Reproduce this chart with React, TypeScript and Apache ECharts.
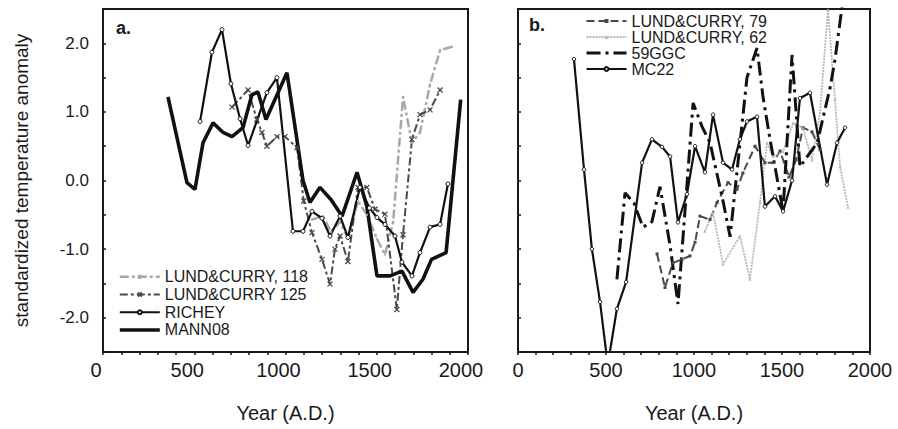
import React, { useEffect, useRef } from "react";
import * as echarts from "echarts";

type Pt = [number, number];

// Panel a: reconstructions
const lund118: Pt[] = [
  [1145, -0.57], [1205, -0.52], [1250, -0.75], [1299, -0.6], [1342, -0.85],
  [1397, -0.3], [1446, -0.5], [1501, -0.85], [1545, -1.08], [1590, -0.6],
  [1644, 1.22], [1693, 0.55], [1737, 0.7], [1792, 1.4], [1847, 1.9], [1912, 1.95],
];
const lund125: Pt[] = [
  [707, 1.07], [795, 1.32], [843, 0.89], [871, 0.7], [898, 0.5], [953, 0.64],
  [997, 0.64], [1063, 0.48], [1100, -0.3], [1145, -0.76], [1200, -1.15],
  [1244, -1.51], [1271, -1.0], [1299, -0.81], [1342, -1.18], [1397, -0.1],
  [1446, -0.1], [1490, -0.42], [1545, -0.49], [1610, -1.88], [1644, -0.79],
  [1693, 0.6], [1737, 0.96], [1792, 1.03], [1847, 1.32],
];
const richey: Pt[] = [
  [532, 0.86], [597, 1.87], [652, 2.2], [701, 1.41], [751, 0.9], [795, 0.51],
  [898, 1.28], [953, 1.5], [1041, -0.74], [1096, -0.74], [1145, -0.45],
  [1200, -0.55], [1244, -0.81], [1299, -0.52], [1342, -0.83], [1408, -0.1],
  [1460, -0.4], [1501, -0.54], [1545, -0.64], [1600, -0.81], [1638, -1.19],
  [1693, -1.39], [1737, -1.05], [1792, -0.68], [1847, -0.64], [1890, -0.05],
];
const mann08: Pt[] = [
  [356, 1.22], [460, -0.03], [504, -0.13], [548, 0.55], [603, 0.84], [658, 0.7],
  [707, 0.64], [767, 0.77], [816, 1.25], [849, 1.29], [893, 0.89], [1008, 1.57],
  [1096, 0.0], [1134, -0.32], [1189, -0.1], [1250, -0.28], [1310, -0.52],
  [1392, 0.12], [1446, -0.38], [1501, -1.39], [1573, -1.39], [1638, -1.32],
  [1699, -1.63], [1753, -1.44], [1800, -1.15], [1880, -1.05], [1960, 1.18],
];

// Panel b: cores
const lund79: Pt[] = [
  [790, -1.07], [835, -1.56], [880, -1.2], [932, -1.15], [977, -1.1], [1006, -0.9],
  [1034, -0.52], [1091, -0.57], [1131, -0.32], [1193, -0.03], [1244, -0.13],
  [1278, 0.11], [1347, 0.5], [1403, 0.26], [1449, 0.26], [1489, 0.43],
  [1540, 0.05], [1580, 0.3], [1619, 0.77], [1670, 0.71], [1716, 0.45],
];
const lund62: Pt[] = [
  [1062, -0.74], [1108, -0.47], [1165, -1.22], [1261, -0.81], [1318, -1.44],
  [1375, -0.32], [1415, 0.55], [1449, 0.35], [1506, 0.42], [1563, 0.84],
  [1619, 0.77], [1670, 0.3], [1716, 0.99], [1761, 2.49], [1801, 1.18],
  [1830, 0.2], [1875, -0.39],
];
const ggc59: Pt[] = [
  [562, -1.44], [608, -0.18], [659, -0.33], [710, -0.68], [761, -0.6], [807, -0.09],
  [864, -0.95], [909, -1.8], [995, 1.13], [1045, 0.79], [1091, 0.55], [1165, -0.3],
  [1205, -0.82], [1301, 1.5], [1358, 1.93], [1392, 1.22], [1432, 0.6], [1506, -0.45],
  [1557, 1.83], [1602, 0.2], [1700, 0.55], [1773, 1.35], [1801, 1.76], [1850, 2.7],
];
const mc22: Pt[] = [
  [318, 1.77], [375, 0.16], [420, -1.0], [466, -1.77], [510, -2.69], [562, -1.87],
  [614, -1.48], [705, 0.26], [761, 0.6], [818, 0.49], [864, 0.35], [909, -0.61],
  [960, -0.2], [1006, 0.5], [1062, 0.12], [1108, 0.96], [1165, 0.26], [1216, 0.16],
  [1261, 0.6], [1301, 0.86], [1358, 0.93], [1403, -0.38], [1460, -0.23],
  [1506, -0.45], [1557, 0.0], [1602, 1.2], [1659, 1.28], [1756, -0.06],
  [1813, 0.55], [1858, 0.77],
];

const yearTicks = [0, 500, 1000, 1500, 2000];
const FONT = "Liberation Sans, Arial, Helvetica, sans-serif";
const INK = "#1a1a1a";

const legendTextA = { fontFamily: FONT, fontSize: 16, color: INK, lineHeight: 17.7 };
const legendTextB = { fontFamily: FONT, fontSize: 16, color: INK, lineHeight: 14.5 };

function xAxisFor(gridIndex: number, shiftLabels: boolean) {
  return {
    type: "value",
    gridIndex,
    min: yearTicks[0],
    max: yearTicks[yearTicks.length - 1],
    interval: 500,
    name: "Year (A.D.)",
    nameLocation: "middle",
    nameGap: 51,
    nameTextStyle: { fontFamily: FONT, fontSize: 20, color: INK },
    axisLine: { show: true, onZero: false, lineStyle: { color: INK, width: 2 } },
    axisTick: { show: true, inside: false, length: 3, lineStyle: { color: INK, width: 1.5 } },
    minorTick: { show: true, splitNumber: 5, length: 3, lineStyle: { color: INK, width: 1.5 } },
    splitLine: { show: false },
    axisLabel: {
      fontFamily: FONT,
      fontSize: 20,
      color: INK,
      margin: 8,
      padding: shiftLabels ? [0, 14, 0, 0] : 0,
      formatter: (v: number) => String(v),
    },
  };
}

function yAxisFor(gridIndex: number, withLabels: boolean) {
  return {
    type: "value",
    gridIndex,
    min: -2.5,
    max: 2.5,
    interval: 0.5,
    name: withLabels ? "standardized temperature anomaly" : "",
    nameLocation: "middle",
    nameGap: 72,
    nameRotate: 90,
    nameTextStyle: { fontFamily: FONT, fontSize: 19, color: INK },
    axisLine: { show: true, onZero: false, lineStyle: { color: INK, width: 2 } },
    axisTick: { show: true, inside: true, length: 3, lineStyle: { color: INK, width: 1.5 } },
    splitLine: { show: false },
    axisLabel: {
      show: withLabels,
      fontFamily: FONT,
      fontSize: 17,
      color: INK,
      margin: 14,
      formatter: (v: number) =>
        Number.isInteger(v) && Math.abs(v) < 2.5 ? v.toFixed(1) : "",
    },
  };
}

export default function App() {
  const ref = useRef<HTMLDivElement>(null);

  useEffect(() => {
    if (!ref.current) return;
    const chart = echarts.init(ref.current, undefined, { renderer: "svg" });

    const xSym = "path://M0,0L10,10M10,0L0,10";

    chart.setOption({
      animation: false,
      backgroundColor: "#fff",
      grid: [
        { left: 103, right: 430, top: 9, bottom: 77, show: true, borderColor: INK, borderWidth: 2 },
        { left: 518, right: 28, top: 9, bottom: 77, show: true, borderColor: INK, borderWidth: 2 },
      ],
      xAxis: [xAxisFor(0, true), xAxisFor(1, false)],
      yAxis: [yAxisFor(0, true), yAxisFor(1, false)],
      legend: [
        {
          orient: "vertical",
          left: 118,
          top: 268,
          itemWidth: 40,
          itemHeight: 5,
          itemGap: 0,
          padding: 0,
          textStyle: legendTextA,
          data: [
            { name: "LUND&CURRY, 118", textStyle: legendTextA, lineStyle: { width: 2.5 } },
            { name: "LUND&CURRY 125", textStyle: legendTextA, lineStyle: { width: 2 } },
            { name: "RICHEY", textStyle: legendTextA, lineStyle: { width: 2.2 } },
            { name: "MANN08", textStyle: legendTextA, itemStyle: { opacity: 0 }, lineStyle: { width: 3.6 } },
          ],
        },
        {
          orient: "vertical",
          left: 585,
          top: 13,
          itemWidth: 40,
          itemHeight: 5,
          itemGap: 0,
          padding: 0,
          textStyle: legendTextB,
          data: [
            { name: "LUND&CURRY, 79", textStyle: legendTextB, lineStyle: { width: 2 } },
            { name: "LUND&CURRY, 62", textStyle: legendTextB, lineStyle: { width: 1.8 } },
            { name: "59GGC", textStyle: legendTextB, itemStyle: { opacity: 0 }, lineStyle: { width: 3 } },
            { name: "MC22", textStyle: legendTextB, lineStyle: { width: 2.2 } },
          ],
        },
      ],
      graphic: [
        { type: "text", left: 116, top: 19, style: { text: "a.", fontFamily: FONT, fontSize: 18, fontWeight: "bold", fill: INK } },
        { type: "text", left: 529, top: 16, style: { text: "b.", fontFamily: FONT, fontSize: 18, fontWeight: "bold", fill: INK } },
      ],
      series: [
        {
          name: "LUND&CURRY, 118",
          type: "line",
          xAxisIndex: 0,
          yAxisIndex: 0,
          data: lund118,
          symbol: "rect",
          symbolSize: 2,
          itemStyle: { color: "#a8a8a8" },
          lineStyle: { color: "#a8a8a8", width: 2.5, type: [9, 3, 3, 3] },
        },
        {
          name: "LUND&CURRY 125",
          type: "line",
          xAxisIndex: 0,
          yAxisIndex: 0,
          data: lund125,
          symbol: xSym,
          symbolSize: 5,
          itemStyle: { color: "none", borderColor: "#4a4a4a", borderWidth: 1.3 },
          lineStyle: { color: "#4a4a4a", width: 2, type: [8, 3, 3, 3] },
        },
        {
          name: "RICHEY",
          type: "line",
          xAxisIndex: 0,
          yAxisIndex: 0,
          data: richey,
          symbol: "circle",
          symbolSize: 4,
          itemStyle: { color: "#fff", borderColor: "#111", borderWidth: 1 },
          lineStyle: { color: "#111", width: 2.2 },
        },
        {
          name: "MANN08",
          type: "line",
          xAxisIndex: 0,
          yAxisIndex: 0,
          data: mann08,
          symbol: "none",
          itemStyle: { color: "#111" },
          lineStyle: { color: "#111", width: 3.6 },
        },
        {
          name: "LUND&CURRY, 79",
          type: "line",
          xAxisIndex: 1,
          yAxisIndex: 1,
          data: lund79,
          symbol: "rect",
          symbolSize: 3,
          itemStyle: { color: "#4a4a4a" },
          lineStyle: { color: "#4a4a4a", width: 2, type: [8, 4] },
        },
        {
          name: "LUND&CURRY, 62",
          type: "line",
          xAxisIndex: 1,
          yAxisIndex: 1,
          data: lund62,
          symbol: "triangle",
          symbolSize: 3,
          itemStyle: { color: "#b8b8b8" },
          lineStyle: { color: "#b8b8b8", width: 1.8, type: [2, 1] },
        },
        {
          name: "59GGC",
          type: "line",
          xAxisIndex: 1,
          yAxisIndex: 1,
          data: ggc59,
          symbol: "none",
          itemStyle: { color: "#111" },
          lineStyle: { color: "#111", width: 3, type: [14, 5, 3, 5] },
        },
        {
          name: "MC22",
          type: "line",
          xAxisIndex: 1,
          yAxisIndex: 1,
          data: mc22,
          symbol: "circle",
          symbolSize: 3.5,
          itemStyle: { color: "#fff", borderColor: "#111", borderWidth: 1 },
          lineStyle: { color: "#111", width: 2.2 },
        },
      ],
    });

    return () => chart.dispose();
  }, []);

  return (
    <div
      ref={ref}
      style={{ position: "fixed", left: 0, top: 0, width: 898, height: 429 }}
    />
  );
}
